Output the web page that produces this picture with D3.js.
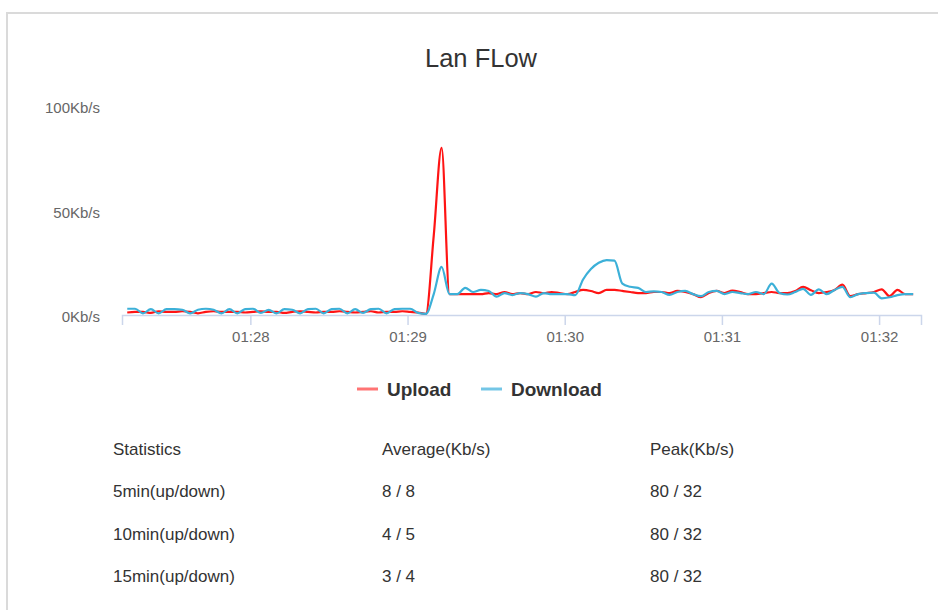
<!DOCTYPE html>
<html>
<head>
<meta charset="utf-8">
<script src="https://cdn.jsdelivr.net/npm/d3@7"></script>
<style>
  html, body { margin: 0; padding: 0; background: #fff; }
  svg { display: block; font-family: "Liberation Sans", Arial, sans-serif; }
</style>
</head>
<body>
<svg id="chart" width="938" height="610"></svg>
<script>
// Sampling: one reading every 3 seconds starting at 01:27:13
const sampleStart = "01:27:13";
const sampleStepSeconds = 3;

// Visible time window of the x axis
const axisStart = "01:27:11";
const axisEnd = "01:32:16";

// Upload rate, Kb/s
const uploadKbps = [
  1.2,1.5,1.5,1,1.8,1.5,1.5,1.8,1.5,0.8,1.5,1.8,1.5,1.5,1.5,1.2,1.5,1.8,1.5,1.5,
  1,1.5,1.8,1.5,1.2,1.5,1.5,1.8,1.5,1.2,1.5,1.8,1.2,1.5,1.5,1.8,1.5,1.2,
  0.5,38,80,10,10,10,10,10,10.5,10,11,10,10.5,10,11,10.5,11,10.5,10,
  11,12,11.5,10.5,12,12,11.5,11,10.5,10.5,11,11,10.5,11.5,11,10,8.5,10.5,11.5,10.5,11.7,11,10,
  10,10.5,11,10.5,10.5,11.5,13.5,11.8,10.5,11,12,14.5,9,10,10.5,11,12.3,9,12,10,10
];

// Download rate, Kb/s
const downloadKbps = [
  3,3,0.8,2.8,0.8,2.8,2.8,2.5,0.8,2.5,3,2.5,0.8,2.8,0.8,2.8,3,1,2.5,0.8,
  2.8,2.5,0.8,2.8,3,0.8,2.8,3,0.8,2.8,1,2.8,3,0.8,2.8,3,3,1,
  0.5,10,23,10,10,13,11,12,11.5,8.8,10.5,9.5,10.5,10,8.8,10.5,10,10,10,
  9.5,17,22,25,26.3,26,15,13.5,13,11,11.3,11,9.6,11,11.5,10,9,11,11.5,10,11,10.5,10,
  11,10,15,10.5,9.8,11,12.5,9.6,12.3,10,12,13.5,8.5,10,10.5,10.7,8,8.5,9.5,10,10
];

const timeTicks = ["01:28", "01:29", "01:30", "01:31", "01:32"];
const rateTicks = [0, 50, 100];

const seriesNames = ["Upload", "Download"];
const seriesColors = ["#ff1414", "#3cb0d8"];
const legendColors = ["#ff7474", "#74c6e6"];

const statHeaders = ["Statistics", "Average(Kb/s)", "Peak(Kb/s)"];
const statPeriods = ["5min(up/down)", "10min(up/down)", "15min(up/down)"];
const statAverages = ["8 / 8", "4 / 5", "3 / 4"];
const statPeaks = ["80 / 32", "80 / 32", "80 / 32"];

const parseTime = d3.timeParse("%H:%M:%S");
const parseTick = d3.timeParse("%H:%M");
const t0 = parseTime(sampleStart);
const times = uploadKbps.map((_, i) => new Date(t0.getTime() + i * sampleStepSeconds * 1000));

const svg = d3.select("#chart");

// card frame
svg.append("path")
  .attr("d", "M7,610 V13 H938")
  .attr("fill", "none")
  .attr("stroke", "#dadada")
  .attr("stroke-width", 2);

svg.append("text")
  .attr("x", 481).attr("y", 67)
  .attr("text-anchor", "middle")
  .attr("font-size", 25.5)
  .attr("fill", "#333")
  .text("Lan FLow");

const plot = { left: 122, right: 921, top: 106, bottom: 315 };

const x = d3.scaleTime()
  .domain([parseTime(axisStart), parseTime(axisEnd)])
  .range([plot.left, plot.right]);

const y = d3.scaleLinear().domain([0, 100]).range([plot.bottom, plot.top]);

// x axis
const xAxis = svg.append("g")
  .attr("transform", `translate(0,${plot.bottom})`)
  .call(d3.axisBottom(x)
    .tickValues(timeTicks.map(parseTick))
    .tickFormat(d3.timeFormat("%H:%M"))
    .tickSize(10)
    .tickPadding(6));
xAxis.select(".domain").attr("stroke", "#ccd6eb").attr("stroke-width", 1.5);
xAxis.selectAll(".tick line").attr("stroke", "#ccd6eb").attr("stroke-width", 1.5);
xAxis.selectAll(".tick text").attr("fill", "#666").attr("font-size", 15)
  .attr("font-family", "Liberation Sans, Arial, sans-serif");

// y axis labels (no line)
const yAxis = svg.append("g")
  .attr("transform", `translate(${plot.left},0)`)
  .call(d3.axisLeft(y)
    .tickValues(rateTicks)
    .tickFormat(d => d + "Kb/s")
    .tickSize(0)
    .tickPadding(22));
yAxis.select(".domain").remove();
yAxis.selectAll(".tick text").attr("fill", "#666").attr("font-size", 15)
  .attr("dy", "0.45em")
  .attr("font-family", "Liberation Sans, Arial, sans-serif");

const line = d3.line()
  .x((d, i) => x(times[i]))
  .y(d => y(d))
  .curve(d3.curveMonotoneX);

[uploadKbps, downloadKbps].forEach((series, k) => {
  svg.append("path")
    .datum(series)
    .attr("fill", "none")
    .attr("stroke", seriesColors[k])
    .attr("stroke-width", 2.2)
    .attr("stroke-linejoin", "round")
    .attr("d", line);
});

// legend
const legendX = [357, 481];
seriesNames.forEach((name, k) => {
  const g = svg.append("g").attr("transform", `translate(${legendX[k]},389)`);
  g.append("line").attr("x1", 0).attr("x2", 21).attr("y1", 0).attr("y2", 0)
    .attr("stroke", legendColors[k]).attr("stroke-width", 3);
  g.append("text").attr("x", 30).attr("y", 7)
    .attr("font-size", 19).attr("font-weight", "bold").attr("fill", "#333")
    .text(name);
});

// statistics table
const colX = [113, 382, 650];
const rowY = [455, 497, 540, 582];
const rows = [statHeaders].concat(statPeriods.map((p, i) => [p, statAverages[i], statPeaks[i]]));
rows.forEach((row, r) => {
  row.forEach((cell, c) => {
    svg.append("text")
      .attr("x", colX[c]).attr("y", rowY[r])
      .attr("font-size", 17).attr("fill", "#333")
      .text(cell);
  });
});
</script>
</body>
</html>
